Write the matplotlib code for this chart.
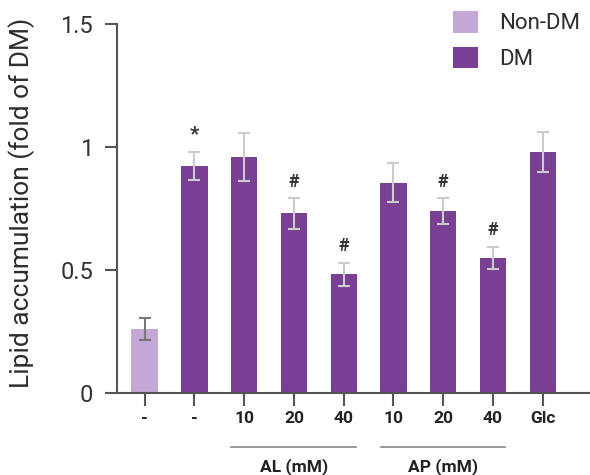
import matplotlib
matplotlib.use('Agg')
import matplotlib.pyplot as plt
from matplotlib.patches import Patch

plt.rcParams['font.family'] = ['Roboto', 'DejaVu Sans']

labels = ['-', '-', '10', '20', '40', '10', '20', '40', 'Glc']
means = [0.26, 0.923, 0.958, 0.73, 0.483, 0.855, 0.74, 0.549, 0.98]
errs = [0.045, 0.057, 0.097, 0.062, 0.047, 0.08, 0.052, 0.045, 0.08]
marks = ['', '*', '', '#', '#', '', '#', '#', '']
groups = [('AL (mM)', 3), ('AP (mM)', 6)]

light = '#c3a7d6'
dark = '#783f93'
axcol = '#555555'

fig = plt.figure(figsize=(5.9, 4.75), dpi=100)
ax = fig.add_axes([0.198, 0.1726, 0.802, 0.7769])

x = list(range(len(means)))
cols = [light] + [dark] * (len(means) - 1)
ecols = ['#777777'] + ['#cccccc'] * (len(means) - 1)
ax.bar(x, means, width=0.53, color=cols)
for xi, m, e, ec in zip(x, means, errs, ecols):
    ax.errorbar(xi, m, yerr=e, fmt='none', ecolor=ec, elinewidth=1.5, capsize=4, capthick=1.5)
for xi, m, e, s in zip(x, means, errs, marks):
    if s:
        ax.text(xi, m + e + 0.03, s, ha='center', va='bottom',
                fontsize=15 if s == '*' else 13, fontweight='bold', color='#333333')

ax.set_xlim(-0.56, 8.95)
ax.set_ylim(0, 1.5)
ax.set_yticks([0, 0.5, 1, 1.5])
ax.set_yticklabels(['0', '0.5', '1', '1.5'])
ax.set_xticks(x)
ax.set_xticklabels(labels, fontweight='bold')
ax.tick_params(axis='y', labelsize=17, colors=axcol, length=9, width=1.5, labelcolor='#333333', pad=8)
ax.tick_params(axis='x', labelsize=12.5, colors=axcol, length=9, width=1.5, labelcolor='#222222', pad=4)
for side in ['top', 'right']:
    ax.spines[side].set_visible(False)
for side in ['left', 'bottom']:
    ax.spines[side].set_color(axcol)
    ax.spines[side].set_linewidth(1.5)
fig.text(22 / 590, 0.572, 'Lipid accumulation (fold of DM)', rotation=90, ha='center',
         va='center', fontsize=19, color='#2e2e2e')

tr = ax.get_xaxis_transform()
for name, c in groups:
    ax.plot([c - 1.26, c + 1.24], [-0.146, -0.146], color='#888888', lw=1.2,
            transform=tr, clip_on=False)
    ax.text(c, -0.198, name, transform=tr, ha='center', va='center', fontsize=12.5,
            fontweight='bold', color='#222222')

handles = [Patch(facecolor=light, label='Non-DM'), Patch(facecolor=dark, label='DM')]
leg = ax.legend(handles=handles, loc='upper left', bbox_to_anchor=(0.71, 1.035),
                frameon=False, fontsize=16, handlelength=1.12, handleheight=1.12,
                handletextpad=0.95, labelspacing=0.55, labelcolor='#2e2e2e',
                borderaxespad=0, borderpad=0)

fig.savefig('out.png', dpi=100)
